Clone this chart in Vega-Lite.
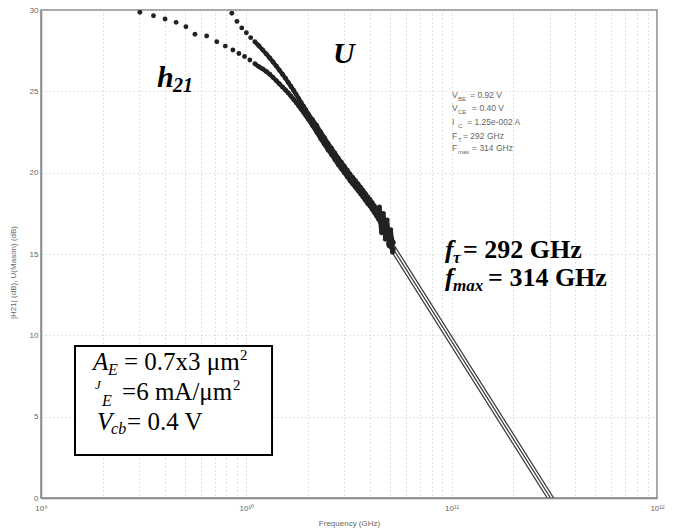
{
  "$schema": "https://vega.github.io/schema/vega-lite/v6.json",
  "width": 616,
  "height": 488,
  "autosize": {"type": "none"},
  "padding": {"left": 41, "top": 10, "right": 16, "bottom": 33},
  "background": "white",
  "config": {
    "view": {"stroke": "#8a8a8a", "strokeWidth": 1.5},
    "font": "Liberation Sans",
    "axis": {"domainColor": "#8a8a8a", "domainWidth": 1.5, "gridColor": "#c4c4c4", "gridDash": [1, 3], "gridWidth": 1, "ticks": false, "labelColor": "#666", "labelFontSize": 8, "titleColor": "#666", "titleFontSize": 8, "titleFontWeight": "normal", "labelFont": "Liberation Sans", "titleFont": "Liberation Sans"}
  },
  "datasets": {
    "curves": [
      {"s": "h21", "f": 3.03e9, "db": 29.86}, {"s": "h21", "f": 3.53e9, "db": 29.65}, {"s": "h21", "f": 4.02e9, "db": 29.45}, {"s": "h21", "f": 4.55e9, "db": 29.24},
      {"s": "h21", "f": 5.08e9, "db": 28.97}, {"s": "h21", "f": 5.62e9, "db": 28.51}, {"s": "h21", "f": 6.41e9, "db": 28.40}, {"s": "h21", "f": 7.18e9, "db": 28.05},
      {"s": "h21", "f": 7.9e9, "db": 27.78}, {"s": "h21", "f": 8.6e9, "db": 27.54}, {"s": "h21", "f": 9.2e9, "db": 27.33}, {"s": "h21", "f": 9.8e9, "db": 27.14},
      {"s": "h21", "f": 10.4e9, "db": 26.93}, {"s": "h21", "f": 11e9, "db": 26.7}, {"s": "h21", "f": 11.5e9, "db": 26.52}, {"s": "h21", "f": 12e9, "db": 26.38},
      {"s": "h21", "f": 12.5e9, "db": 26.22}, {"s": "h21", "f": 13e9, "db": 26.05}, {"s": "h21", "f": 13.5e9, "db": 25.85}, {"s": "h21", "f": 14e9, "db": 25.65},
      {"s": "h21", "f": 14.5e9, "db": 25.45}, {"s": "h21", "f": 15e9, "db": 25.27}, {"s": "h21", "f": 15.5e9, "db": 25.08}, {"s": "h21", "f": 16e9, "db": 24.9},
      {"s": "h21", "f": 16.5e9, "db": 24.7}, {"s": "h21", "f": 17e9, "db": 24.5}, {"s": "h21", "f": 17.5e9, "db": 24.3}, {"s": "h21", "f": 18e9, "db": 24.1},
      {"s": "h21", "f": 18.5e9, "db": 23.9}, {"s": "h21", "f": 19e9, "db": 23.7}, {"s": "h21", "f": 19.5e9, "db": 23.5}, {"s": "h21", "f": 20e9, "db": 23.3},
      {"s": "h21", "f": 21e9, "db": 22.9}, {"s": "h21", "f": 22e9, "db": 22.5}, {"s": "h21", "f": 23e9, "db": 22.1}, {"s": "h21", "f": 24e9, "db": 21.75},
      {"s": "h21", "f": 25e9, "db": 21.4}, {"s": "h21", "f": 26e9, "db": 21.1}, {"s": "h21", "f": 27e9, "db": 20.8}, {"s": "h21", "f": 28e9, "db": 20.5},
      {"s": "h21", "f": 29e9, "db": 20.25}, {"s": "h21", "f": 30e9, "db": 20.0}, {"s": "h21", "f": 31e9, "db": 19.75}, {"s": "h21", "f": 32e9, "db": 19.5},
      {"s": "h21", "f": 33e9, "db": 19.3}, {"s": "h21", "f": 34e9, "db": 19.1}, {"s": "h21", "f": 35e9, "db": 18.9}, {"s": "h21", "f": 36e9, "db": 18.7},
      {"s": "h21", "f": 37e9, "db": 18.5}, {"s": "h21", "f": 38e9, "db": 18.3}, {"s": "h21", "f": 39e9, "db": 18.1}, {"s": "h21", "f": 40e9, "db": 17.95},
      {"s": "h21", "f": 41e9, "db": 17.75}, {"s": "h21", "f": 42e9, "db": 17.55}, {"s": "h21", "f": 43e9, "db": 17.35}, {"s": "h21", "f": 44e9, "db": 17.15},
      {"s": "h21", "f": 45e9, "db": 16.95}, {"s": "h21", "f": 45.5e9, "db": 16.3}, {"s": "h21", "f": 46e9, "db": 16.75}, {"s": "h21", "f": 47e9, "db": 16.55},
      {"s": "h21", "f": 47.5e9, "db": 15.9}, {"s": "h21", "f": 48e9, "db": 16.3}, {"s": "h21", "f": 49e9, "db": 16.05}, {"s": "h21", "f": 49.5e9, "db": 15.5},
      {"s": "h21", "f": 50e9, "db": 15.8}, {"s": "h21", "f": 51e9, "db": 15.55}, {"s": "h21", "f": 51.5e9, "db": 15.1}, {"s": "h21", "f": 52e9, "db": 15.3},
      {"s": "U", "f": 8.5e9, "db": 29.8}, {"s": "U", "f": 9e9, "db": 29.3}, {"s": "U", "f": 9.5e9, "db": 28.9}, {"s": "U", "f": 10e9, "db": 28.6},
      {"s": "U", "f": 10.5e9, "db": 28.3}, {"s": "U", "f": 11e9, "db": 28.05}, {"s": "U", "f": 11.5e9, "db": 27.8}, {"s": "U", "f": 12e9, "db": 27.55},
      {"s": "U", "f": 12.5e9, "db": 27.3}, {"s": "U", "f": 13e9, "db": 27.05}, {"s": "U", "f": 13.5e9, "db": 26.8}, {"s": "U", "f": 14e9, "db": 26.55},
      {"s": "U", "f": 14.5e9, "db": 26.3}, {"s": "U", "f": 15e9, "db": 26.05}, {"s": "U", "f": 15.5e9, "db": 25.8}, {"s": "U", "f": 16e9, "db": 25.55},
      {"s": "U", "f": 16.5e9, "db": 25.3}, {"s": "U", "f": 17e9, "db": 25.05}, {"s": "U", "f": 17.5e9, "db": 24.8}, {"s": "U", "f": 18e9, "db": 24.55},
      {"s": "U", "f": 18.5e9, "db": 24.3}, {"s": "U", "f": 19e9, "db": 24.08}, {"s": "U", "f": 19.5e9, "db": 23.85}, {"s": "U", "f": 20e9, "db": 23.62},
      {"s": "U", "f": 21e9, "db": 23.25}, {"s": "U", "f": 22e9, "db": 22.9}, {"s": "U", "f": 23e9, "db": 22.5}, {"s": "U", "f": 24e9, "db": 22.15},
      {"s": "U", "f": 25e9, "db": 21.8}, {"s": "U", "f": 26e9, "db": 21.5}, {"s": "U", "f": 27e9, "db": 21.2}, {"s": "U", "f": 28e9, "db": 20.9},
      {"s": "U", "f": 29e9, "db": 20.65}, {"s": "U", "f": 30e9, "db": 20.4}, {"s": "U", "f": 31e9, "db": 20.15}, {"s": "U", "f": 32e9, "db": 19.9},
      {"s": "U", "f": 33e9, "db": 19.7}, {"s": "U", "f": 34e9, "db": 19.5}, {"s": "U", "f": 35e9, "db": 19.3}, {"s": "U", "f": 36e9, "db": 19.1},
      {"s": "U", "f": 37e9, "db": 18.9}, {"s": "U", "f": 38e9, "db": 18.7}, {"s": "U", "f": 39e9, "db": 18.5}, {"s": "U", "f": 40e9, "db": 18.35},
      {"s": "U", "f": 41e9, "db": 18.15}, {"s": "U", "f": 42e9, "db": 17.95}, {"s": "U", "f": 43e9, "db": 17.75}, {"s": "U", "f": 44e9, "db": 17.55},
      {"s": "U", "f": 44.5e9, "db": 17.9}, {"s": "U", "f": 45e9, "db": 17.35}, {"s": "U", "f": 46e9, "db": 17.15}, {"s": "U", "f": 46.5e9, "db": 17.5},
      {"s": "U", "f": 47e9, "db": 16.95}, {"s": "U", "f": 48e9, "db": 16.7}, {"s": "U", "f": 48.5e9, "db": 17.1}, {"s": "U", "f": 49e9, "db": 16.45},
      {"s": "U", "f": 50e9, "db": 16.2}, {"s": "U", "f": 50.5e9, "db": 16.5}, {"s": "U", "f": 51e9, "db": 15.95}, {"s": "U", "f": 52e9, "db": 15.7}
    ],
    "fits": [
      {"k": "fT", "f": 48e9, "db": 15.68}, {"k": "fT", "f": 292e9, "db": 0},
      {"k": "mid", "f": 48e9, "db": 16.0}, {"k": "mid", "f": 303e9, "db": 0},
      {"k": "fmax", "f": 48e9, "db": 16.31}, {"k": "fmax", "f": 314e9, "db": 0}
    ],
    "box": [{"f1": 1.464e9, "f2": 1.334e10, "d1": 2.643, "d2": 9.344}],
    "notes": [
      {"g": "bi30", "t": "h", "f": 3.673e9, "db": 25.27},
      {"g": "bi30", "t": "U", "f": 2.644e10, "db": 26.74},
      {"g": "bi20", "t": "21", "f": 4.395e9, "db": 24.96},
      {"g": "bi26", "t": "f", "f": 9.286e10, "db": 14.754},
      {"g": "bi26", "t": "f", "f": 9.286e10, "db": 13.033},
      {"g": "bi17", "t": "τ", "f": 1.016e11, "db": 14.446},
      {"g": "bi17", "t": "max", "f": 1.016e11, "db": 12.725},
      {"g": "b26", "t": "= 292 GHz", "f": 1.136e11, "db": 14.754},
      {"g": "b26", "t": "= 314 GHz", "f": 1.504e11, "db": 13.033},
      {"g": "i25", "t": "A", "f": 1.792e9, "db": 7.869},
      {"g": "i25", "t": "V", "f": 1.874e9, "db": 4.180},
      {"g": "i16", "t": "E", "f": 2.120e9, "db": 7.561},
      {"g": "i16", "t": "E", "f": 1.982e9, "db": 5.656},
      {"g": "i16", "t": "cb", "f": 2.193e9, "db": 3.934},
      {"g": "i13", "t": "J", "f": 1.832e9, "db": 6.701},
      {"g": "r25", "t": "= 0.7x3 μm", "f": 2.537e9, "db": 7.869},
      {"g": "r25", "t": "=6 mA/μm", "f": 2.481e9, "db": 6.024},
      {"g": "r25", "t": "= 0.4 V", "f": 2.624e9, "db": 4.180},
      {"g": "r15", "t": "2", "f": 9.318e9, "db": 8.483},
      {"g": "r15", "t": "2", "f": 8.614e9, "db": 6.639},
      {"g": "s8", "t": "V", "f": 1.004e11, "db": 24.59},
      {"g": "s8", "t": "V", "f": 1.004e11, "db": 23.79},
      {"g": "s8", "t": "I", "f": 1.004e11, "db": 22.93},
      {"g": "s8", "t": "F", "f": 1.004e11, "db": 22.07},
      {"g": "s8", "t": "F", "f": 1.004e11, "db": 21.33},
      {"g": "s8", "t": "= 0.92 V", "f": 1.229e11, "db": 24.59},
      {"g": "s8", "t": "= 0.40 V", "f": 1.257e11, "db": 23.79},
      {"g": "s8", "t": "= 1.25e-002 A", "f": 1.189e11, "db": 22.93},
      {"g": "s8", "t": "= 292 GHz", "f": 1.136e11, "db": 22.07},
      {"g": "s8", "t": "= 314 GHz", "f": 1.257e11, "db": 21.33},
      {"g": "s6", "t": "BE", "f": 1.074e11, "db": 24.41},
      {"g": "s6", "t": "CE", "f": 1.074e11, "db": 23.61},
      {"g": "s6", "t": "C", "f": 1.074e11, "db": 22.75},
      {"g": "s6", "t": "T", "f": 1.074e11, "db": 21.88},
      {"g": "s6", "t": "max", "f": 1.074e11, "db": 21.15}
    ]
  },
  "layer": [
    {
      "data": {"name": "fits"},
      "mark": {"type": "line", "color": "#333333", "strokeWidth": 1.2, "clip": true},
      "encoding": {
        "x": {"field": "f", "type": "quantitative", "scale": {"type": "log", "domain": [1e9, 1e12]},
          "axis": {"values": [1e9, 2e9, 3e9, 4e9, 5e9, 6e9, 7e9, 8e9, 9e9, 1e10, 2e10, 3e10, 4e10, 5e10, 6e10, 7e10, 8e10, 9e10, 1e11, 2e11, 3e11, 4e11, 5e11, 6e11, 7e11, 8e11, 9e11, 1e12],
            "labelExpr": "datum.value == 1e9 ? '10⁹' : datum.value == 1e10 ? '10¹⁰' : datum.value == 1e11 ? '10¹¹' : datum.value == 1e12 ? '10¹²' : ''",
            "labelOverlap": false, "labelFlush": false, "labelPadding": 6, "grid": true,
            "title": "Frequency (GHz)", "titleY": 27, "titleBaseline": "alphabetic"}},
        "y": {"field": "db", "type": "quantitative", "scale": {"domain": [0, 30]},
          "axis": {"values": [0, 5, 10, 15, 20, 25, 30], "grid": true, "labelPadding": 3,
            "title": "|H21| (dB), U(Mason) (dB)", "titleX": -24, "titleY": 262, "titleAnchor": "middle"}},
        "detail": {"field": "k"}
      }
    },
    {
      "data": {"name": "curves"},
      "transform": [{"filter": "datum.f >= 11e9"}],
      "mark": {"type": "line", "color": "#222222", "strokeWidth": 4.3, "clip": true},
      "encoding": {
        "x": {"field": "f", "type": "quantitative", "scale": {"type": "log", "domain": [1e9, 1e12]}},
        "y": {"field": "db", "type": "quantitative", "scale": {"domain": [0, 30]}},
        "detail": {"field": "s"}
      }
    },
    {
      "data": {"name": "curves"},
      "mark": {"type": "circle", "color": "#222222", "size": 24, "opacity": 1, "clip": true},
      "encoding": {
        "x": {"field": "f", "type": "quantitative", "scale": {"type": "log", "domain": [1e9, 1e12]}},
        "y": {"field": "db", "type": "quantitative", "scale": {"domain": [0, 30]}}
      }
    },
    {
      "data": {"name": "box"},
      "mark": {"type": "rect", "fill": "white", "stroke": "black", "strokeWidth": 2},
      "encoding": {
        "x": {"field": "f1", "type": "quantitative", "scale": {"type": "log", "domain": [1e9, 1e12]}},
        "x2": {"field": "f2"},
        "y": {"field": "d1", "type": "quantitative", "scale": {"domain": [0, 30]}},
        "y2": {"field": "d2"}
      }
    },
    {
      "data": {"name": "notes"},
      "transform": [{"filter": "datum.g == 'bi30'"}],
      "mark": {"type": "text", "font": "Liberation Serif", "fontSize": 30, "fontWeight": "bold", "fontStyle": "italic", "align": "left", "baseline": "alphabetic", "color": "black"},
      "encoding": {"x": {"field": "f", "type": "quantitative", "scale": {"type": "log", "domain": [1e9, 1e12]}}, "y": {"field": "db", "type": "quantitative", "scale": {"domain": [0, 30]}}, "text": {"field": "t"}}
    },
    {
      "data": {"name": "notes"},
      "transform": [{"filter": "datum.g == 'bi20'"}],
      "mark": {"type": "text", "font": "Liberation Serif", "fontSize": 20, "fontWeight": "bold", "fontStyle": "italic", "align": "left", "baseline": "alphabetic", "color": "black"},
      "encoding": {"x": {"field": "f", "type": "quantitative", "scale": {"type": "log", "domain": [1e9, 1e12]}}, "y": {"field": "db", "type": "quantitative", "scale": {"domain": [0, 30]}}, "text": {"field": "t"}}
    },
    {
      "data": {"name": "notes"},
      "transform": [{"filter": "datum.g == 'bi26'"}],
      "mark": {"type": "text", "font": "Liberation Serif", "fontSize": 26, "fontWeight": "bold", "fontStyle": "italic", "align": "left", "baseline": "alphabetic", "color": "black"},
      "encoding": {"x": {"field": "f", "type": "quantitative", "scale": {"type": "log", "domain": [1e9, 1e12]}}, "y": {"field": "db", "type": "quantitative", "scale": {"domain": [0, 30]}}, "text": {"field": "t"}}
    },
    {
      "data": {"name": "notes"},
      "transform": [{"filter": "datum.g == 'bi17'"}],
      "mark": {"type": "text", "font": "Liberation Serif", "fontSize": 17, "fontWeight": "bold", "fontStyle": "italic", "align": "left", "baseline": "alphabetic", "color": "black"},
      "encoding": {"x": {"field": "f", "type": "quantitative", "scale": {"type": "log", "domain": [1e9, 1e12]}}, "y": {"field": "db", "type": "quantitative", "scale": {"domain": [0, 30]}}, "text": {"field": "t"}}
    },
    {
      "data": {"name": "notes"},
      "transform": [{"filter": "datum.g == 'b26'"}],
      "mark": {"type": "text", "font": "Liberation Serif", "fontSize": 26, "fontWeight": "bold", "align": "left", "baseline": "alphabetic", "color": "black"},
      "encoding": {"x": {"field": "f", "type": "quantitative", "scale": {"type": "log", "domain": [1e9, 1e12]}}, "y": {"field": "db", "type": "quantitative", "scale": {"domain": [0, 30]}}, "text": {"field": "t"}}
    },
    {
      "data": {"name": "notes"},
      "transform": [{"filter": "datum.g == 'i25'"}],
      "mark": {"type": "text", "font": "Liberation Serif", "fontSize": 25, "fontStyle": "italic", "align": "left", "baseline": "alphabetic", "color": "black"},
      "encoding": {"x": {"field": "f", "type": "quantitative", "scale": {"type": "log", "domain": [1e9, 1e12]}}, "y": {"field": "db", "type": "quantitative", "scale": {"domain": [0, 30]}}, "text": {"field": "t"}}
    },
    {
      "data": {"name": "notes"},
      "transform": [{"filter": "datum.g == 'i16'"}],
      "mark": {"type": "text", "font": "Liberation Serif", "fontSize": 16, "fontStyle": "italic", "align": "left", "baseline": "alphabetic", "color": "black"},
      "encoding": {"x": {"field": "f", "type": "quantitative", "scale": {"type": "log", "domain": [1e9, 1e12]}}, "y": {"field": "db", "type": "quantitative", "scale": {"domain": [0, 30]}}, "text": {"field": "t"}}
    },
    {
      "data": {"name": "notes"},
      "transform": [{"filter": "datum.g == 'i13'"}],
      "mark": {"type": "text", "font": "Liberation Serif", "fontSize": 13, "fontStyle": "italic", "align": "left", "baseline": "alphabetic", "color": "black"},
      "encoding": {"x": {"field": "f", "type": "quantitative", "scale": {"type": "log", "domain": [1e9, 1e12]}}, "y": {"field": "db", "type": "quantitative", "scale": {"domain": [0, 30]}}, "text": {"field": "t"}}
    },
    {
      "data": {"name": "notes"},
      "transform": [{"filter": "datum.g == 'r25'"}],
      "mark": {"type": "text", "font": "Liberation Serif", "fontSize": 25, "align": "left", "baseline": "alphabetic", "color": "black"},
      "encoding": {"x": {"field": "f", "type": "quantitative", "scale": {"type": "log", "domain": [1e9, 1e12]}}, "y": {"field": "db", "type": "quantitative", "scale": {"domain": [0, 30]}}, "text": {"field": "t"}}
    },
    {
      "data": {"name": "notes"},
      "transform": [{"filter": "datum.g == 'r15'"}],
      "mark": {"type": "text", "font": "Liberation Serif", "fontSize": 15, "align": "left", "baseline": "alphabetic", "color": "black"},
      "encoding": {"x": {"field": "f", "type": "quantitative", "scale": {"type": "log", "domain": [1e9, 1e12]}}, "y": {"field": "db", "type": "quantitative", "scale": {"domain": [0, 30]}}, "text": {"field": "t"}}
    },
    {
      "data": {"name": "notes"},
      "transform": [{"filter": "datum.g == 's8'"}],
      "mark": {"type": "text", "font": "Liberation Sans", "fontSize": 8.5, "align": "left", "baseline": "alphabetic", "color": "#666"},
      "encoding": {"x": {"field": "f", "type": "quantitative", "scale": {"type": "log", "domain": [1e9, 1e12]}}, "y": {"field": "db", "type": "quantitative", "scale": {"domain": [0, 30]}}, "text": {"field": "t"}}
    },
    {
      "data": {"name": "notes"},
      "transform": [{"filter": "datum.g == 's6'"}],
      "mark": {"type": "text", "font": "Liberation Sans", "fontSize": 6, "align": "left", "baseline": "alphabetic", "color": "#666"},
      "encoding": {"x": {"field": "f", "type": "quantitative", "scale": {"type": "log", "domain": [1e9, 1e12]}}, "y": {"field": "db", "type": "quantitative", "scale": {"domain": [0, 30]}}, "text": {"field": "t"}}
    }
  ]
}
